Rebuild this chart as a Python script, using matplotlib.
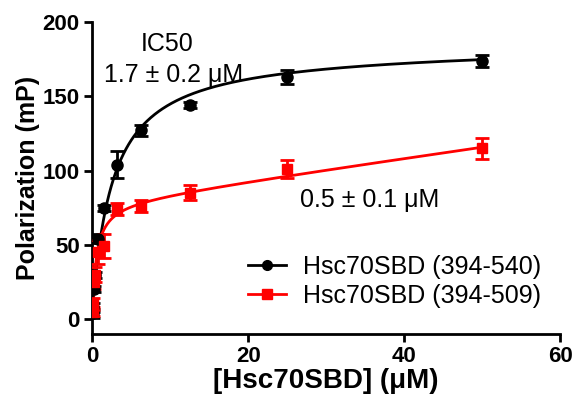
import numpy as np
import matplotlib
matplotlib.use("Agg")
import matplotlib.pyplot as plt

plt.rcParams['font.family'] = ['Liberation Sans', 'DejaVu Sans']

# Data: Hsc70SBD (394-540)
conc_black = [50, 25, 12.5, 6.25, 3.125, 1.5625, 0.78, 0.39, 0.195, 0.098, 0.049]
pol_black = [174, 163, 144, 127, 104, 75, 54, 30, 20, 8, 4]
err_black = [4, 5, 2, 4, 9, 2, 3, 2, 2, 3, 3]

# Data: Hsc70SBD (394-509)
conc_red = [50, 25, 12.5, 6.25, 3.125, 1.5625, 0.78, 0.39, 0.195, 0.098, 0.049]
pol_red = [115, 101, 85, 76, 74, 49, 45, 30, 25, 10, 5]
err_red = [7, 6, 5, 4, 4, 8, 8, 5, 5, 4, 3]

# Fit parameters (one site + nonspecific)
fit_black = dict(b0=3.0, bmax=178.0, kd=2.6, ns=0.05)
fit_red = dict(b0=-1.0, bmax=80.0, kd=0.5, ns=0.75)

labels = ["Hsc70SBD (394-540)", "Hsc70SBD (394-509)"]


def model(x, b0, bmax, kd, ns):
    return b0 + bmax * x / (kd + x) + ns * x


fig = plt.figure(figsize=(5.76, 4.0), dpi=100)
ax = fig.add_axes([0.16, 0.165, 0.8125, 0.78])

xs = np.linspace(0.02, 50, 600)

ax.plot(xs, model(xs, **fit_black), color='black', lw=2, zorder=2)
ax.errorbar(conc_black, pol_black, yerr=err_black, fmt='o', color='black',
            ms=8, capsize=5, capthick=2, elinewidth=2, zorder=3)
ax.plot(xs, model(xs, **fit_red), color='#ff0000', lw=2, zorder=2)
ax.errorbar(conc_red, pol_red, yerr=err_red, fmt='s', color='#ff0000',
            ms=7.5, capsize=5, capthick=2, elinewidth=2, zorder=3)

# legend proxies
h1, = ax.plot([], [], '-o', color='black', lw=2, ms=7)
h2, = ax.plot([], [], '-s', color='#ff0000', lw=2, ms=7)
fig.legend([h1, h2], labels, loc='upper left', frameon=False, fontsize=18,
           handlelength=1.5, handletextpad=0.7, labelspacing=0.2,
           borderpad=0, borderaxespad=0,
           bbox_to_anchor=(248 / 576, 1 - 255 / 400))

ax.text(9.6, 185, "IC50", fontsize=18, ha='center', va='center')
ax.text(10.5, 164.5, "1.7 \u00b1 0.2 \u03bcM", fontsize=18, ha='center', va='center')
ax.text(35.6, 80.3, "0.5 \u00b1 0.1 \u03bcM", fontsize=18, ha='center', va='center')

ax.set_xlim(0, 60)
ax.set_ylim(-10, 200)
ax.set_xticks([0, 20, 40, 60])
ax.set_yticks([0, 50, 100, 150, 200])
for s in ['top', 'right']:
    ax.spines[s].set_visible(False)
for s in ['left', 'bottom']:
    ax.spines[s].set_linewidth(2)
ax.tick_params(width=2, length=6, labelsize=16, pad=3)
for lab in ax.get_xticklabels() + ax.get_yticklabels():
    lab.set_fontweight('bold')
ax.set_xlabel("[Hsc70SBD] (\u03bcM)", fontsize=20, fontweight='bold', labelpad=0)
ax.set_ylabel("Polarization (mP)", fontsize=18, fontweight='bold', labelpad=2)

fig.savefig("out.png", dpi=100)
